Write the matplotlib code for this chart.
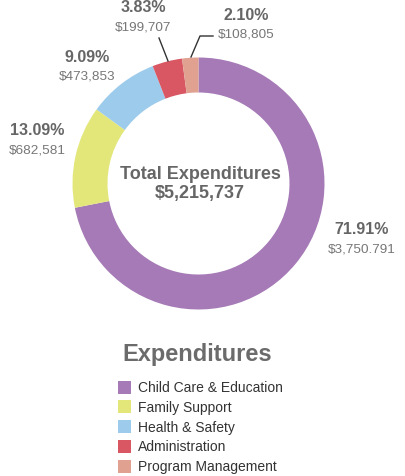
import matplotlib
matplotlib.use("Agg")
import matplotlib.pyplot as plt
from matplotlib.patches import Rectangle

categories = ["Child Care & Education", "Family Support", "Health & Safety",
              "Administration", "Program Management"]
values = [3750791, 682581, 473853, 199707, 108805]
pct_labels = ["71.91%", "13.09%", "9.09%", "3.83%", "2.10%"]
value_labels = ["$3,750.791", "$682,581", "$473,853", "$199,707", "$108,805"]
colors = ["#A57AB6", "#E3E77A", "#9DCBEC", "#D85763", "#E0A191"]
total_label = "$5,215,737"

plt.rcParams['font.family'] = ['Liberation Sans', 'DejaVu Sans']

W, H = 406, 477
fig = plt.figure(figsize=(W / 100, H / 100), dpi=100)

cx, cy, R = 198.5, 184.5, 126
axp = fig.add_axes([(cx - R) / W, 1 - (cy + R) / H, 2 * R / W, 2 * R / H])
axp.pie(values, colors=colors, startangle=90, counterclock=False, radius=1,
        wedgeprops=dict(width=35 / R, linewidth=0))
axp.set_xlim(-1, 1)
axp.set_ylim(-1, 1)
axp.set_aspect('auto')
axp.axis('off')

ov = fig.add_axes([0, 0, 1, 1], zorder=5)
ov.set_xlim(0, W)
ov.set_ylim(H, 0)
ov.axis('off')

bold_col = "#666666"
val_col = "#777777"
pos = [(362, 230), (37, 131), (87, 57), (143, 8), (246, 15)]
for (x, y), p, v in zip(pos, pct_labels, value_labels):
    ov.text(x, y, p, ha='center', va='center', fontsize=11.5, fontweight='bold', color=bold_col)
    ov.text(x, y + 19.5, v, ha='center', va='center', fontsize=9.7, color=val_col)

# leader lines
ov.plot([159, 168], [39, 62], color="#333333", lw=1)
ov.plot([191, 200, 213], [58, 37, 37], color="#333333", lw=1)

ov.text(200, 175, "Total Expenditures", ha='center', va='center', fontsize=13,
        fontweight='bold', color=bold_col)
ov.text(200, 194, total_label, ha='center', va='center', fontsize=13,
        fontweight='bold', color=bold_col)

ov.text(197, 355, "Expenditures", ha='center', va='center', fontsize=17,
        fontweight='bold', color="#6b6b6b")

for i, (lab, col) in enumerate(zip(categories, colors)):
    y = 388 + i * 19.8
    ov.add_patch(Rectangle((118, y - 6.5), 13, 13, facecolor=col, edgecolor='none'))
    ov.text(138, y, lab, ha='left', va='center', fontsize=10, color="#333333")

fig.savefig("out.png", dpi=100)
